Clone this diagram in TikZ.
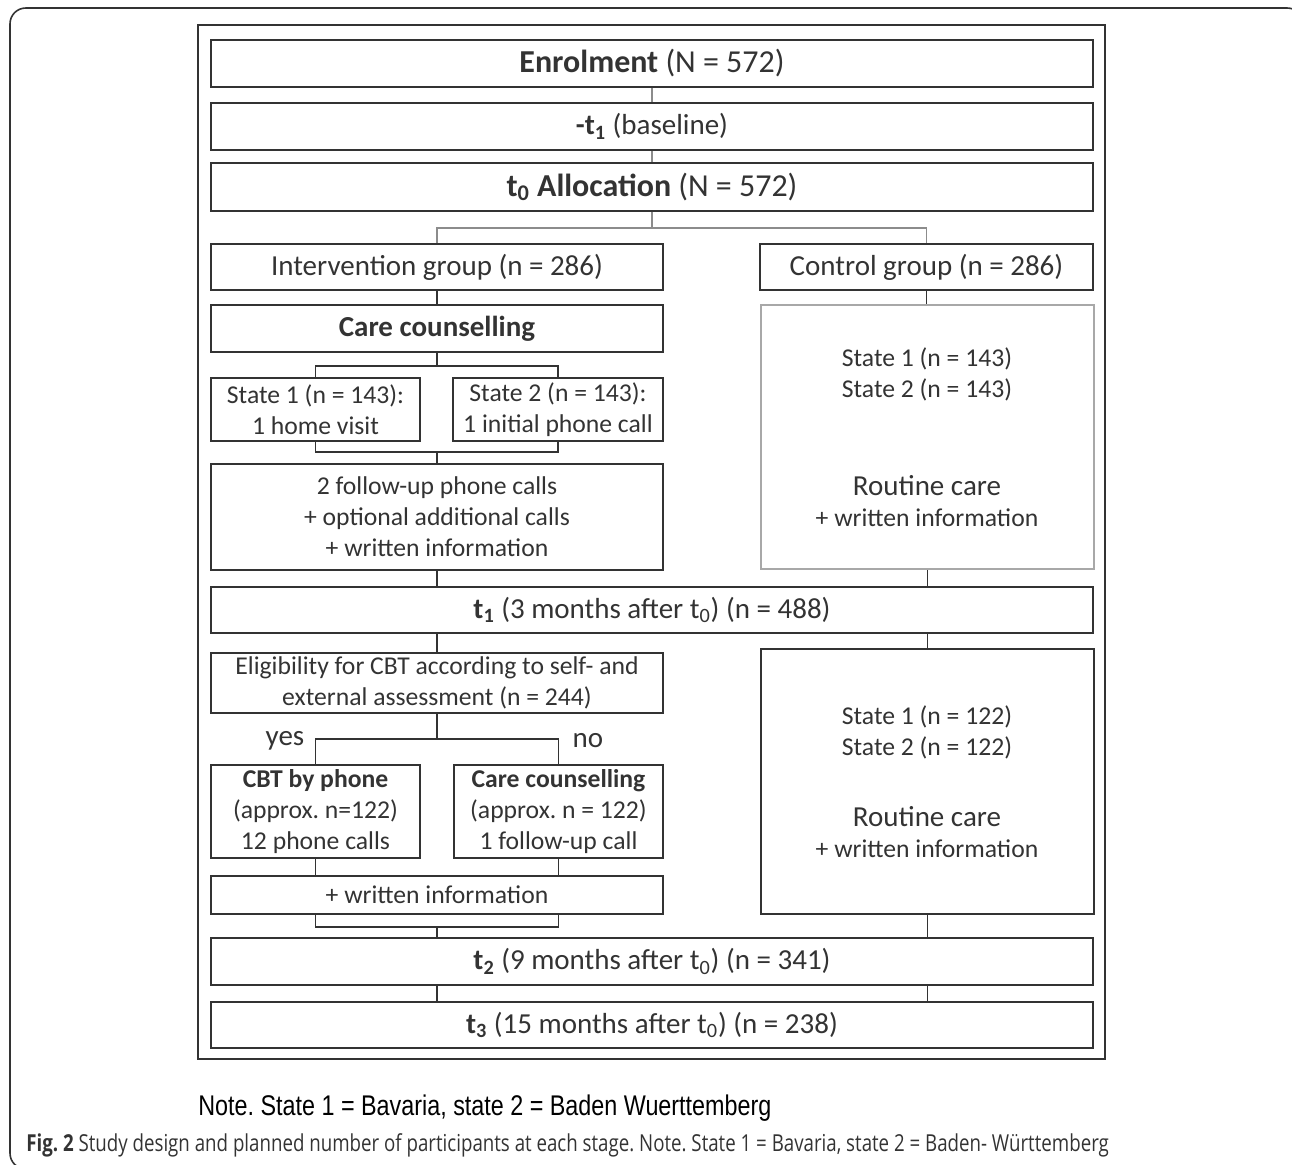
\documentclass[tikz,border=0pt]{standalone}
\usepackage{fontspec}
\usepackage{xcolor}
\setmainfont{Carlito}
\newfontfamily\notefont[FakeStretch=0.82]{Liberation Sans}
\newfontfamily\capfont[FakeStretch=0.8]{Open Sans}
\usetikzlibrary{positioning}
\definecolor{ink}{HTML}{333333}
\definecolor{linkgray}{HTML}{8C8C8C}
\definecolor{pale}{HTML}{A8A8A8}
\def\sm{\fontsize{14.6}{17.6}\selectfont}
\def\lg{\fontsize{16.5}{20}\selectfont}
\def\hg{\fontsize{18.2}{22}\selectfont}
\frenchspacing

\begin{document}
\begin{tikzpicture}[x=0.02cm,y=-0.02cm,
  box/.style={draw=ink,line width=0.9pt,inner sep=0pt,align=center,font=\sm,text=ink},
  wide/.style={box,minimum width=17.64cm},
  half/.style={box,minimum width=9.04cm},
  small/.style={box,minimum width=4.18cm},
  side/.style={box,minimum width=6.66cm},
  link/.style={draw=ink,line width=0.9pt},
  glink/.style={draw=linkgray,line width=0.9pt}]
  \useasboundingbox (0,0) rectangle (1292,1164);
  \begin{scope}
    \clip (0,0) rectangle (1292,1164);
    \draw[ink,line width=0.9pt,rounded corners=9] (10,8) rectangle (1303,1169);
  \end{scope}
  \draw[ink,line width=1.2pt] (198,25) rectangle (1105,1059);
  % top row
  \node[wide,minimum height=0.94cm,font=\hg] (enrol) at (652,63.5) {\textbf{Enrolment} (N = 572)};
  \node[wide,minimum height=0.94cm,font=\lg] (base) at (652,126.5) {\textbf{-t\textsubscript{1}} (baseline)};
  \node[wide,minimum height=0.96cm,font=\hg] (alloc) at (652,187) {\textbf{t\textsubscript{0} Allocation} (N = 572)};
  \node[half,minimum height=0.92cm,font=\lg] (interv) at (437,267) {Intervention group (n = 286)};
  \node[side,minimum height=0.92cm,font=\lg] (ctrl) at (926.5,267) {Control group (n = 286)};
  % intervention arm
  \node[half,minimum height=0.94cm,font=\lg] (care) at (437,328.5) {\textbf{Care counselling}};
  \node[small,minimum height=1.26cm] (st1) at (315.5,409.5) {State 1 (n = 143):\\1 home visit};
  \node[small,minimum height=1.26cm,minimum width=4.2cm] (st2) at (558,409.5) {State 2 (n = 143):\\1 initial phone call};
  \node[half,minimum height=2.12cm] (follow) at (437,517) {2 follow-up phone calls\\+ optional additional calls\\+ written information};
  % control arm
  \node[side,draw=pale,minimum height=5.28cm] (ctrlA) at (927.5,437) {};
  \node[align=center,font=\sm,text=ink] (ctrlAs) at (927,374.5) {State 1 (n = 143)\\State 2 (n = 143)};
  \node[align=center,font=\sm,text=ink] (ctrlAr) at (927,501) {{\lg Routine care}\\+ written information};
  \node[wide,minimum height=0.92cm,font=\lg] (t1) at (652,610) {\textbf{t\textsubscript{1}} (3 months after t\textsubscript{0}) (n = 488)};
  % second phase
  \node[half,minimum height=1.2cm] (elig) at (437,683) {Eligibility for CBT according to self- and\\external assessment (n = 244)};
  \node[font=\lg,text=ink] (yes) at (285,741) {yes};
  \node[font=\lg,text=ink] (no) at (588,741) {no};
  \node[small,minimum height=1.86cm] (cbt) at (315.5,811.5) {\textbf{CBT by phone}\\(approx. n=122)\\12 phone calls};
  \node[small,minimum height=1.86cm] (cc) at (558.5,811.5) {\textbf{Care counselling}\\(approx. n = 122)\\1 follow-up call};
  \node[half,minimum height=0.76cm] (winfo) at (437,895) {+ written information};
  \node[side,minimum height=5.3cm] (ctrlB) at (927.5,781.5) {};
  \node[align=center,font=\sm,text=ink] (ctrlBs) at (927,732.5) {State 1 (n = 122)\\State 2 (n = 122)};
  \node[align=center,font=\sm,text=ink] (ctrlBr) at (927,832) {{\lg Routine care}\\+ written information};
  \node[wide,minimum height=0.94cm,font=\lg] (t2) at (652,961.5) {\textbf{t\textsubscript{2}} (9 months after t\textsubscript{0}) (n = 341)};
  \node[wide,minimum height=0.92cm,font=\lg] (t3) at (652,1025) {\textbf{t\textsubscript{3}} (15 months after t\textsubscript{0}) (n = 238)};
  % connectors
  \coordinate (j1) at (652,228);
  \coordinate (j2) at (437,366);
  \coordinate (j3) at (437,452);
  \coordinate (j4) at (437,739);
  \coordinate (j5) at (437,927);
  \draw[glink] (enrol) -- (base);
  \draw[glink] (base) -- (alloc);
  \draw[glink] (alloc.south) -- (j1) -| (interv.north);
  \draw[glink] (j1) -| (ctrl.north);
  \draw[link] (interv) -- (care);
  \draw[link] (ctrl.south) -- (ctrl.south |- ctrlA.north);
  \draw[link] (care.south) -- (j2) -| (st1.north);
  \draw[link] (j2) -| (st2.north);
  \draw[link] (st1.south) |- (j3) -- (follow.north);
  \draw[link] (st2.south) |- (j3);
  \draw[link] (follow.south) -- (follow.south |- t1.north);
  \draw[link] (ctrlA.south) -- (ctrlA.south |- t1.north);
  \draw[link] (elig.north |- t1.south) -- (elig.north);
  \draw[link] (ctrlB.north |- t1.south) -- (ctrlB.north);
  \draw[link] (elig.south) -- (j4) -| (cbt.north);
  \draw[link] (j4) -| (cc.north);
  \draw[link] (cbt.south) -- (cbt.south |- winfo.north);
  \draw[link] (cc.south) -- (cc.south |- winfo.north);
  \draw[link] (winfo.south -| cbt.south) |- (j5) -| (winfo.south -| cc.south);
  \draw[link] (j5) -- (j5 |- t2.north);
  \draw[link] (ctrlB.south) -- (ctrlB.south |- t2.north);
  \draw[link] (t2.south -| j5) -- (t3.north -| j5);
  \draw[link] (t2.south -| ctrlB.south) -- (t3.north -| ctrlB.south);
  % notes
  \node[anchor=west,inner sep=0pt,font=\notefont\fontsize{16.2}{19}\selectfont] (note) at (198,1108) {Note. State 1 = Bavaria, state 2 = Baden Wuerttemberg};
  \node[anchor=west,inner sep=0pt,font=\capfont\fontsize{13.3}{16}\selectfont,text=ink] (cap) at (26,1145) {\textbf{Fig. 2} Study design and planned number of participants at each stage. Note. State 1 = Bavaria, state 2 = Baden- Württemberg};
\end{tikzpicture}
\end{document}
